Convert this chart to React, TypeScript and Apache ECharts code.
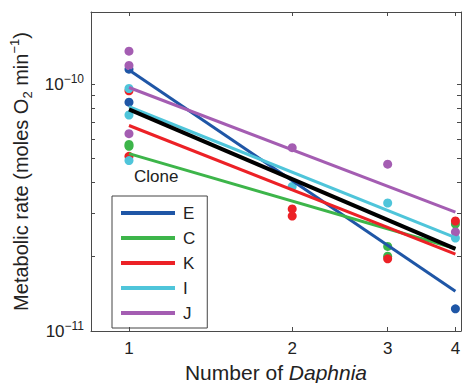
import React, { useEffect, useRef } from "react";
import * as echarts from "echarts";

const clones = ["E", "C", "K", "I", "J"];
const cloneColors = ["#1f56a6", "#3db54a", "#ec2126", "#4fc5da", "#a45db2"];

// Observed points [number of Daphnia, metabolic rate]
const pointsE = [[1, 1.15e-10], [1, 0.845e-10], [4, 0.123e-10]];
const pointsC = [[1, 0.57e-10], [1, 0.56e-10], [3, 0.22e-10], [3, 0.201e-10], [4, 0.271e-10]];
const pointsK = [[1, 0.94e-10], [1, 0.51e-10], [2, 0.312e-10], [2, 0.292e-10], [3, 0.196e-10], [4, 0.279e-10]];
const pointsI = [[1, 0.96e-10], [1, 0.75e-10], [1, 0.49e-10], [2, 0.385e-10], [3, 0.33e-10], [4, 0.238e-10]];
const pointsJ = [[1, 1.36e-10], [1, 1.19e-10], [1, 0.63e-10], [2, 0.553e-10], [3, 0.474e-10], [4, 0.252e-10]];

// Fitted lines: value at x = 1 and x = 4
const fitE = [[1, 1.14e-10], [4, 0.145e-10]];
const fitC = [[1, 0.523e-10], [4, 0.216e-10]];
const fitK = [[1, 0.68e-10], [4, 0.205e-10]];
const fitI = [[1, 0.81e-10], [4, 0.239e-10]];
const fitJ = [[1, 0.969e-10], [4, 0.303e-10]];
const fitAll = [[1, 0.79e-10], [4, 0.215e-10]];

const xTicks = [1, 2, 3, 4];
const yTicks = [1e-11, 2e-11, 3e-11, 4e-11, 5e-11, 6e-11, 7e-11, 8e-11, 9e-11, 1e-10];
const yLabels = [1e-11, 1e-10];

const FONT = "Liberation Sans, Arial, Helvetica, sans-serif";
const AXIS = "#4a4a4a";
const TEXT = "#222";

export default function App() {
  const ref = useRef<HTMLDivElement>(null);
  useEffect(() => {
    if (!ref.current) return;
    const chart = echarts.init(ref.current, null, { renderer: "svg" });
    const allPoints = [pointsE, pointsC, pointsK, pointsI, pointsJ];
    const allFits = [fitE, fitC, fitK, fitI, fitJ];
    const xCommon = {
      type: "log",
      logBase: 2,
      min: 0.851,
      max: 4.096,
      splitLine: { show: false },
      axisLine: { show: true, lineStyle: { color: AXIS, width: 1 } },
    };
    const yCommon = {
      type: "log",
      logBase: 10,
      min: 1e-11,
      max: 1.96e-10,
      splitLine: { show: false },
      axisLine: { show: true, lineStyle: { color: AXIS, width: 1 } },
    };
    const option: any = {
      animation: false,
      grid: { left: 91, right: 1, top: 12, bottom: 52, containLabel: false, outerBoundsMode: "none" },
      title: {
        text: "Clone",
        left: 134,
        top: 168,
        padding: 0,
        textStyle: { fontSize: 17, fontWeight: "normal", color: TEXT, fontFamily: FONT },
      },
      legend: {
        data: clones,
        orient: "vertical",
        left: 112,
        top: 196,
        icon: "rect",
        itemWidth: 54,
        itemHeight: 4,
        itemGap: 7,
        padding: [8, 12, 6, 9],
        borderColor: "#444",
        borderWidth: 1,
        textStyle: { fontSize: 17, color: TEXT, fontFamily: FONT, lineHeight: 18, padding: [0, 0, 0, 3] },
      },
      xAxis: [
        {
          ...xCommon,
          position: "bottom",
          axisTick: { show: true, inside: true, length: 4, customValues: xTicks, lineStyle: { color: AXIS } },
          axisLabel: {
            customValues: xTicks,
            margin: 9,
            fontSize: 17,
            color: TEXT,
            fontFamily: FONT,
            formatter: (v: number) => String(Math.round(v)),
          },
          name: "{n|Number of }{i|Daphnia}",
          nameLocation: "middle",
          nameGap: 31,
          nameTextStyle: {
            color: TEXT,
            fontFamily: FONT,
            fontSize: 21,
            lineHeight: 21,
            rich: {
              n: { fontSize: 21, lineHeight: 21, fontFamily: FONT, color: TEXT },
              i: { fontSize: 21, lineHeight: 21, fontFamily: FONT, color: TEXT, fontStyle: "italic" },
            },
          },
        },
        {
          ...xCommon,
          position: "top",
          axisTick: { show: true, inside: true, length: 4, customValues: xTicks, lineStyle: { color: AXIS } },
          axisLabel: { show: false },
        },
      ],
      yAxis: [
        {
          ...yCommon,
          position: "left",
          axisTick: { show: true, inside: true, length: 4, customValues: yTicks, lineStyle: { color: AXIS } },
          axisLabel: {
            customValues: yLabels,
            margin: 7,
            color: TEXT,
            fontFamily: FONT,
            formatter: (v: number) => "{b|10}{s|\u2212" + String(-Math.round(Math.log10(v))) + "}",
            rich: {
              b: { fontSize: 17, lineHeight: 22, fontFamily: FONT, color: TEXT },
              s: { fontSize: 12, lineHeight: 12, verticalAlign: "top", fontFamily: FONT, color: TEXT },
            },
          },
          name: "{n|Metabolic rate (moles O}{sb|2}{n| min}{sp|\u22121}{n|)}",
          nameLocation: "middle",
          nameRotate: 90,
          nameGap: 38,
          nameTextStyle: {
            color: TEXT,
            fontFamily: FONT,
            fontSize: 20,
            rich: {
              n: { fontSize: 20, lineHeight: 26, fontFamily: FONT, color: TEXT },
              sb: { fontSize: 13, lineHeight: 13, verticalAlign: "bottom", fontFamily: FONT, color: TEXT },
              sp: { fontSize: 13, lineHeight: 13, verticalAlign: "top", fontFamily: FONT, color: TEXT },
            },
          },
        },
        {
          ...yCommon,
          position: "right",
          axisTick: { show: true, inside: true, length: 4, customValues: yTicks, lineStyle: { color: AXIS } },
          axisLabel: { show: false },
        },
      ],
      series: [
        ...allPoints.map((pts, i) => ({
          name: clones[i] + " points",
          type: "scatter",
          xAxisIndex: 0,
          yAxisIndex: 0,
          data: pts,
          symbol: "circle",
          symbolSize: 9,
          itemStyle: { color: cloneColors[i], opacity: 1 },
          z: 2,
        })),
        ...allFits.map((fit, i) => ({
          name: clones[i],
          type: "line",
          xAxisIndex: 0,
          yAxisIndex: 0,
          data: fit,
          showSymbol: false,
          symbol: "none",
          color: cloneColors[i],
          lineStyle: { color: cloneColors[i], width: 3 },
          z: 3,
        })),
        {
          name: "All clones",
          type: "line",
          xAxisIndex: 0,
          yAxisIndex: 0,
          data: fitAll,
          showSymbol: false,
          symbol: "none",
          color: "#000",
          lineStyle: { color: "#000", width: 4 },
          z: 4,
        },
      ],
    };
    chart.setOption(option);
    return () => chart.dispose();
  }, []);
  return (
    <div
      ref={ref}
      style={{ position: "fixed", left: 0, top: 0, width: 462, height: 383, background: "#fff" }}
    />
  );
}
